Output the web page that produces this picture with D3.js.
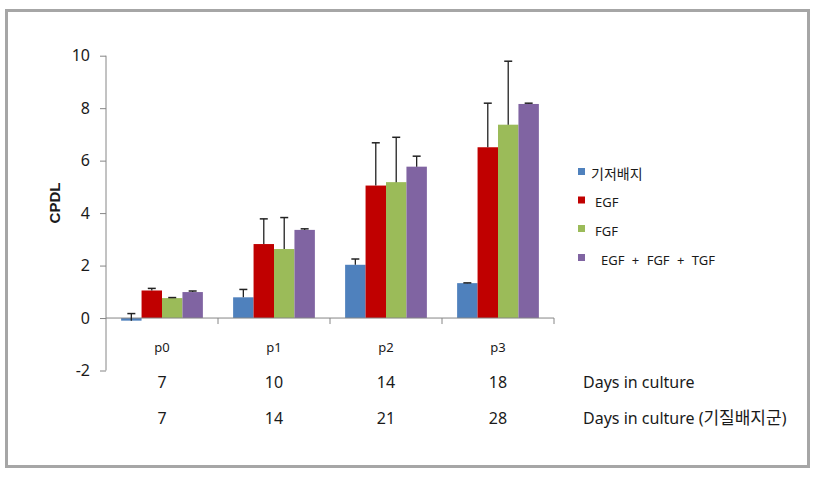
<!DOCTYPE html>
<html>
<head>
<meta charset="utf-8">
<script src="https://cdn.jsdelivr.net/npm/d3@7"></script>
<style>
  body { margin: 0; background: #fff; }
  text { font-family: "Noto Sans", "Noto Sans CJK KR", sans-serif; fill: #1a1a1a; }
</style>
</head>
<body>
<svg id="chart" width="820" height="478"></svg>
<script>
// data
const categories = ['p0', 'p1', 'p2', 'p3'];
const series = ['기저배지', 'EGF', 'FGF', 'EGF + FGF + TGF'];
const colors = ['#4F81BD', '#C00000', '#9BBB59', '#8064A2'];
const values = [
    [-0.1, 0.79, 2.03, 1.33],
    [1.05, 2.82, 5.05, 6.51],
    [0.76, 2.63, 5.18, 7.37],
    [0.99, 3.36, 5.77, 8.16]
];
const errors = [
    [0.27, 0.30, 0.22, 0.01],
    [0.08, 0.96, 1.63, 1.68],
    [0.02, 1.20, 1.71, 2.42],
    [0.04, 0.04, 0.40, 0.03]
];
const daysRow1 = ['7', '10', '14', '18'];
const daysRow2 = ['7', '14', '21', '28'];
const yTicks = [-2, 0, 2, 4, 6, 8, 10];

const svg = d3.select('#chart');
const axisColor = '#868686';

// outer frame
svg.append('rect')
    .attr('x', 6.5).attr('y', 10.5)
    .attr('width', 802).attr('height', 456)
    .attr('fill', 'none')
    .attr('stroke', '#a6a6a6')
    .attr('stroke-width', 3);

const y = d3.scaleLinear().domain([-2, 10]).range([370.5, 55.7]);
const x0 = d3.scaleBand().domain(categories).range([106, 554]);
const gap = x0.bandwidth() * 0.135;
const x1 = d3.scaleBand().domain(d3.range(series.length))
    .range([gap, x0.bandwidth() - gap]);

// y axis
const yAxis = svg.append('g')
    .attr('transform', 'translate(106,0)')
    .call(d3.axisLeft(y).tickValues(yTicks).tickSize(6).tickPadding(10)
        .tickFormat(d => String(d)));
yAxis.select('.domain').attr('stroke', axisColor).attr('d', `M0,${y(-2)}V${y(10)}`);
yAxis.selectAll('.tick line').attr('stroke', axisColor);
yAxis.selectAll('.tick text')
    .style('font-size', '16px')
    .attr('fill', '#1a1a1a');

// bars
categories.forEach((c, ci) => {
    series.forEach((s, si) => {
        const v = values[si][ci];
        svg.append('rect')
            .attr('x', x0(c) + x1(si))
            .attr('y', y(Math.max(v, 0)))
            .attr('width', x1.bandwidth())
            .attr('height', Math.abs(y(v) - y(0)))
            .attr('fill', colors[si]);
    });
});

// x axis at zero
const zeroY = y(0);
svg.append('line')
    .attr('x1', 106).attr('x2', 554)
    .attr('y1', zeroY).attr('y2', zeroY)
    .attr('stroke', axisColor);
categories.forEach(c => {
    const tx = x0(c) + x0.bandwidth();
    svg.append('line')
        .attr('x1', tx).attr('x2', tx)
        .attr('y1', zeroY).attr('y2', zeroY + 6)
        .attr('stroke', axisColor);
});

// error bars (plus direction)
categories.forEach((c, ci) => {
    series.forEach((s, si) => {
        const v = values[si][ci];
        const e = errors[si][ci];
        const cx = x0(c) + x1(si) + x1.bandwidth() / 2;
        svg.append('line')
            .attr('x1', cx).attr('x2', cx)
            .attr('y1', y(v)).attr('y2', y(v + e))
            .attr('stroke', '#222').attr('stroke-width', 1.3);
        svg.append('line')
            .attr('x1', cx - 4).attr('x2', cx + 4)
            .attr('y1', y(v + e)).attr('y2', y(v + e))
            .attr('stroke', '#222').attr('stroke-width', 1.5);
    });
});

// category labels and day rows
const mid = c => x0(c) + x0.bandwidth() / 2;
svg.selectAll('.cat').data(categories).enter().append('text')
    .attr('x', d => mid(d)).attr('y', 352)
    .attr('text-anchor', 'middle')
    .style('font-size', '13px')
    .text(d => d);
svg.selectAll('.d1').data(daysRow1).enter().append('text')
    .attr('x', (d, i) => mid(categories[i])).attr('y', 388)
    .attr('text-anchor', 'middle')
    .style('font-size', '16px')
    .text(d => d);
svg.selectAll('.d2').data(daysRow2).enter().append('text')
    .attr('x', (d, i) => mid(categories[i])).attr('y', 424)
    .attr('text-anchor', 'middle')
    .style('font-size', '16px')
    .text(d => d);
svg.append('text').attr('x', 583).attr('y', 388)
    .style('font-size', '16px').text('Days in culture');
const row2 = svg.append('text').attr('x', 583).attr('y', 424)
    .style('font-size', '16px');
row2.append('tspan').text('Days in culture (');
row2.append('tspan').style('font-size', '17px').text('기질배지군');
row2.append('tspan').text(')');

// y title
svg.append('text')
    .attr('transform', 'translate(60,203) rotate(-90)')
    .attr('text-anchor', 'middle')
    .style('font-family', '"Liberation Sans", Arial, sans-serif')
    .style('font-size', '15px')
    .style('font-weight', 'bold')
    .text('CPDL');

// legend
const legendY = [171.5, 200, 228.5, 257.5];
const legendTx = [591, 595, 595, 601];
const legendFs = ['14px', '13px', '13px', '13px'];
series.forEach((s, i) => {
    svg.append('rect')
        .attr('x', 578).attr('y', legendY[i] - 3.5)
        .attr('width', 7).attr('height', 7)
        .attr('fill', colors[i]);
    svg.append('text')
        .attr('x', legendTx[i]).attr('y', legendY[i] + 3)
        .attr('dy', '0.32em')
        .style('font-size', legendFs[i])
        .style('word-spacing', i === 3 ? '4px' : null)
        .text(s);
});
</script>
</body>
</html>
